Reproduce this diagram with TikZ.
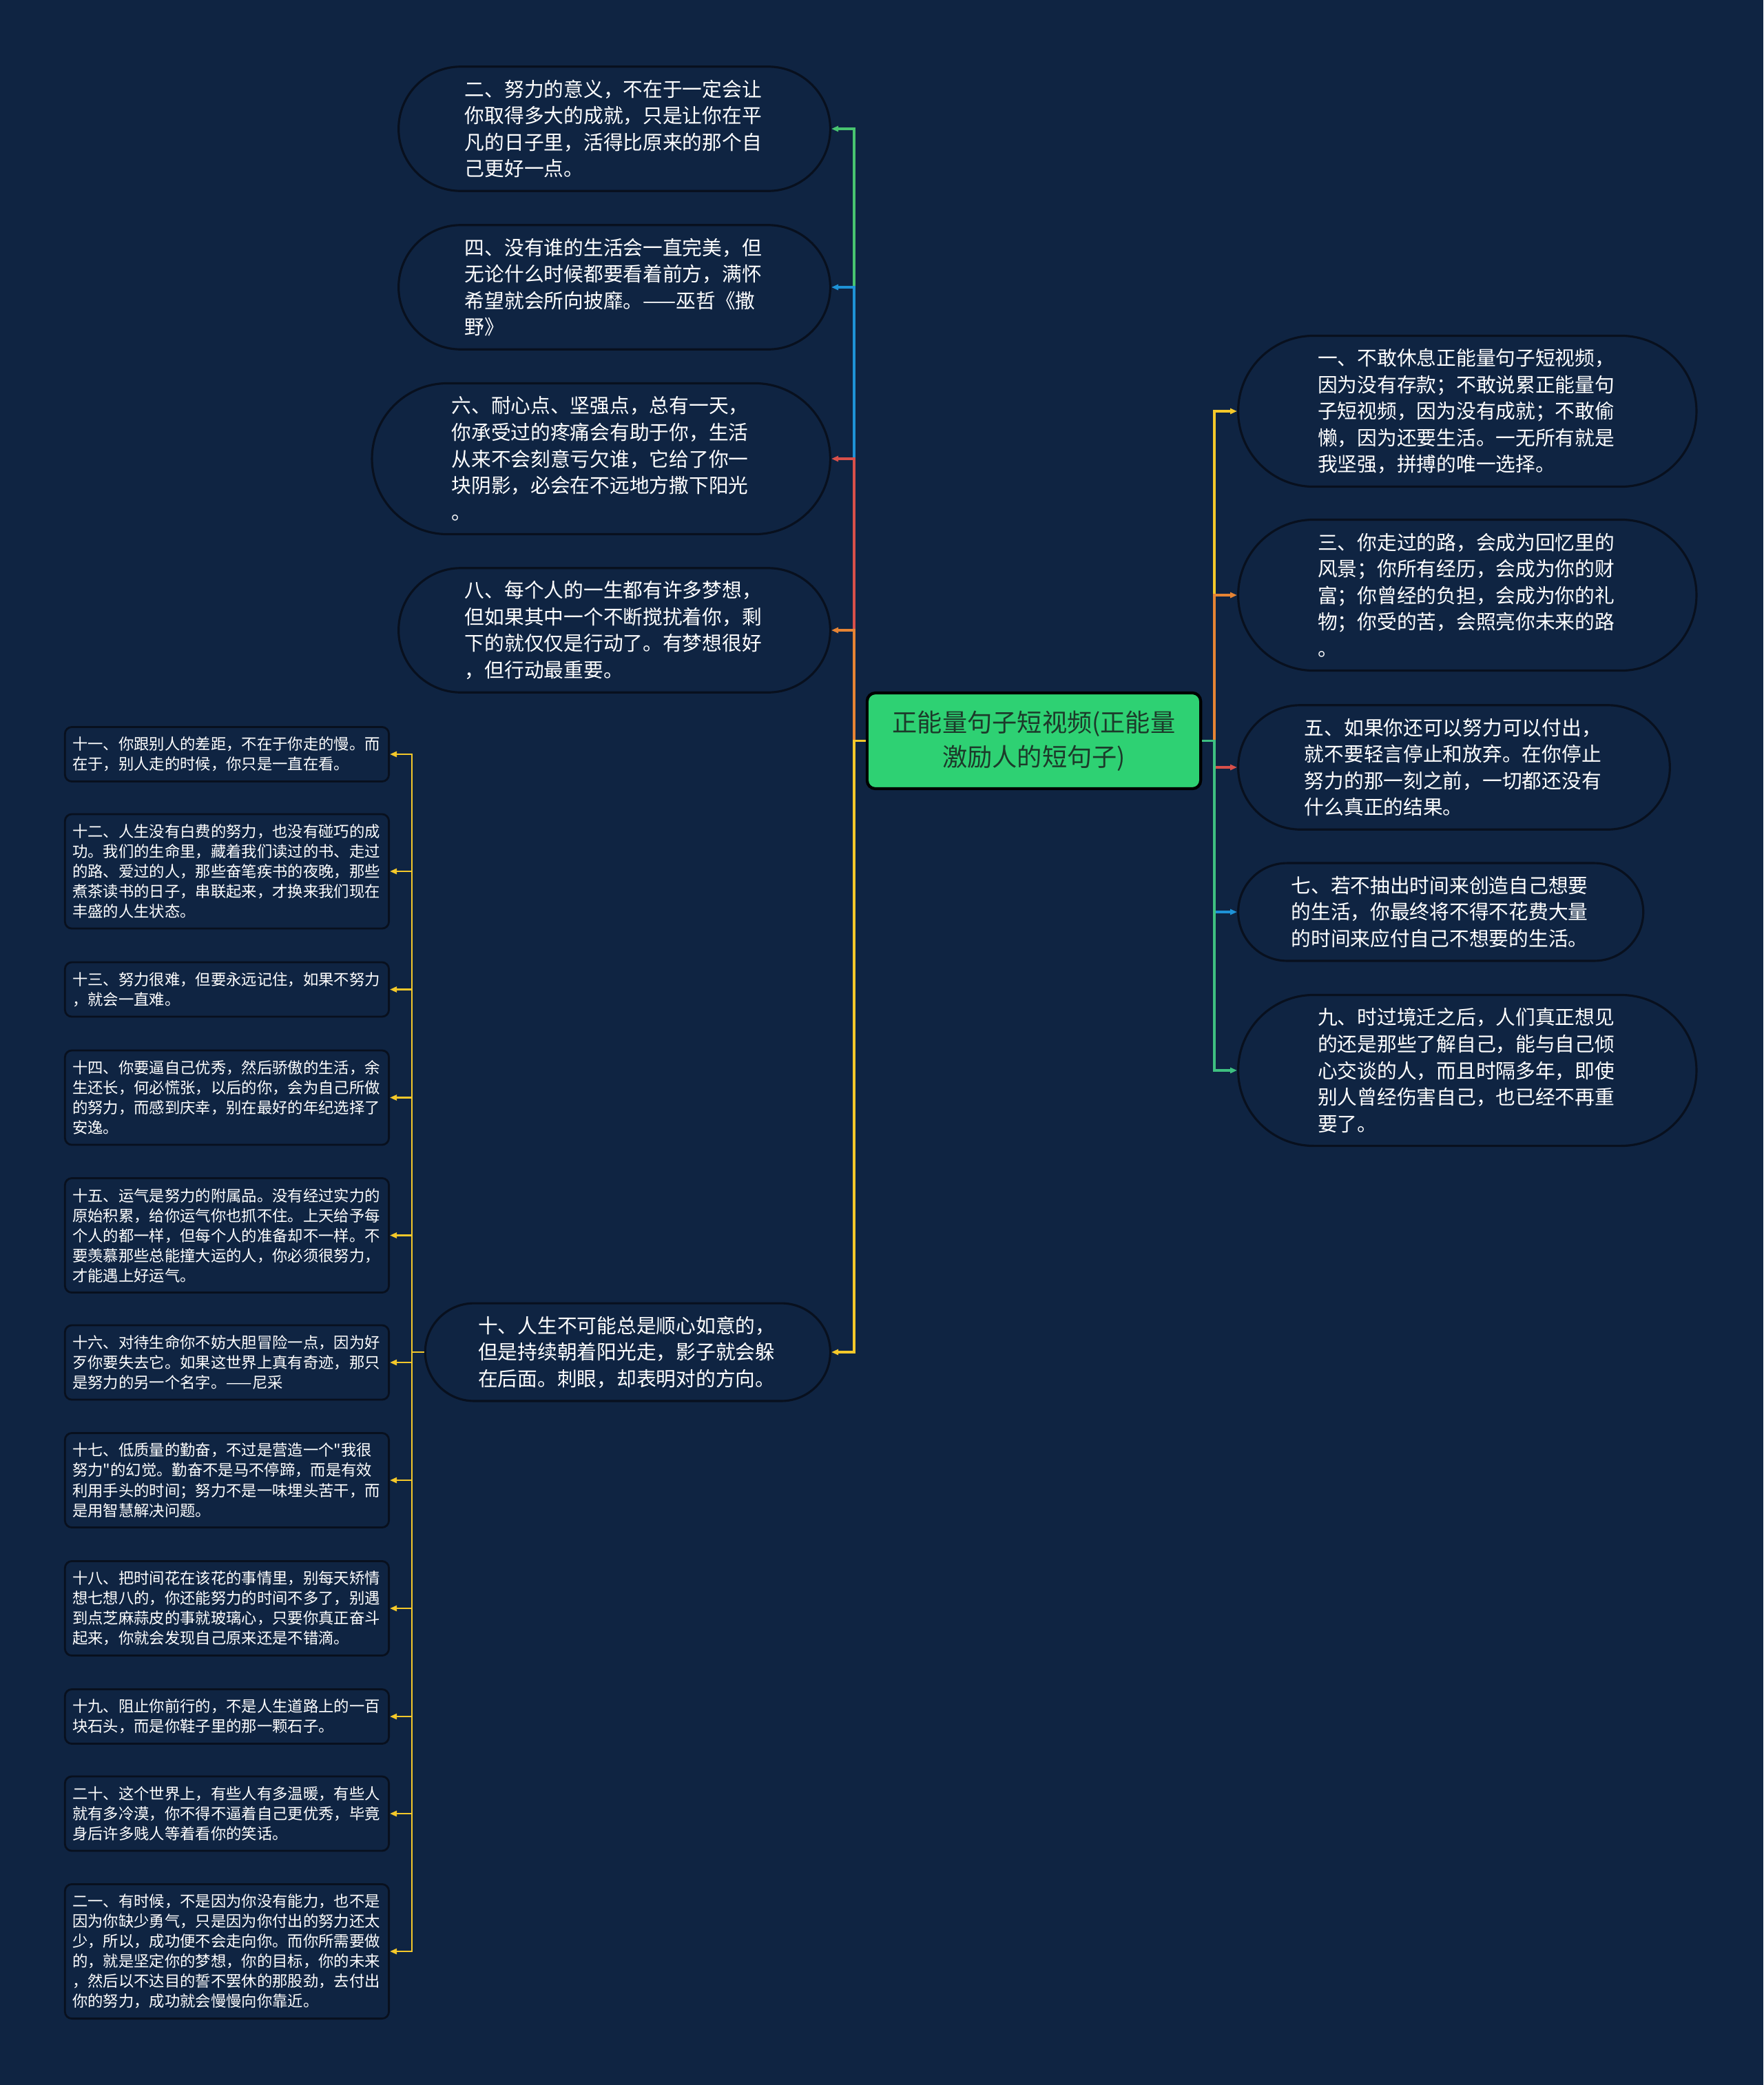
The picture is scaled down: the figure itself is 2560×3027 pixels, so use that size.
\documentclass[tikz,border=0pt]{standalone}
\usepackage{fontspec}
\setmainfont{Noto Sans CJK SC}[Ligatures=TeXOff]
\usetikzlibrary{arrows.meta,shapes.misc}
\definecolor{bg}{RGB}{15,36,66}
\definecolor{rim}{RGB}{8,16,30}
\definecolor{rootg}{RGB}{46,209,115}
\definecolor{rootink}{RGB}{28,58,42}
\definecolor{cgreen}{RGB}{72,196,112}
\definecolor{cblue}{RGB}{30,146,214}
\definecolor{cred}{RGB}{216,80,74}
\definecolor{corange}{RGB}{230,132,52}
\definecolor{yel}{RGB}{244,200,42}
\definecolor{cteal}{RGB}{62,192,128}
\begin{document}
\begin{tikzpicture}[x=0.01cm,y=-0.01cm,>={Triangle[length=1mm,width=0.8mm]},
  pill/.style={rounded rectangle,draw=rim,line width=0.9pt,fill=bg,text=white,font=\fontsize{8.17}{10.98}\selectfont,align=left,text width=4.34cm,inner sep=0pt,minimum height=0.386cm*#1+0.26cm,minimum width=0.386cm*#1+4.72cm},
  card/.style={rectangle,rounded corners=1mm,draw=rim,line width=0.8pt,fill=bg,text=white,font=\fontsize{6.35}{8.25}\selectfont,align=left,text width=4.48cm,inner xsep=0.11cm,inner ysep=0pt,minimum height=0.29cm*#1+0.21cm},
  link/.style={line width=0.9pt,->},
  twig/.style={line width=0.8pt,->,yel}]
\path[use as bounding box,fill=bg] (0,0) rectangle (2560,3027);
% centre
\node[draw=black,line width=1.2pt,fill=rootg,rounded corners=1.2mm,text=rootink,font=\fontsize{10.3}{14.2}\selectfont,align=center,minimum width=4.84cm,minimum height=1.39cm] (root) at (1501,1075.5){正能量句子短视频(正能量\\激励人的短句子)};
% left side
\node[pill=4,anchor=east] (n2) at (1207,187){二、努力的意义，不在于一定会让\\你取得多大的成就，只是让你在平\\凡的日子里，活得比原来的那个自\\己更好一点。};
\node[pill=4,anchor=east] (n4) at (1207,417){四、没有谁的生活会一直完美，但\\无论什么时候都要看着前方，满怀\\希望就会所向披靡。——巫哲《撒\\野》};
\node[pill=5,anchor=east] (n6) at (1207,666){六、耐心点、坚强点，总有一天，\\你承受过的疼痛会有助于你，生活\\从来不会刻意亏欠谁，它给了你一\\块阴影，必会在不远地方撒下阳光\\。};
\node[pill=4,anchor=east] (n8) at (1207,915){八、每个人的一生都有许多梦想，\\但如果其中一个不断搅扰着你，剩\\下的就仅仅是行动了。有梦想很好\\，但行动最重要。};
\node[pill=3,anchor=east] (n10) at (1207,1963){十、人生不可能总是顺心如意的，\\但是持续朝着阳光走，影子就会躲\\在后面。刺眼，却表明对的方向。};
% right side
\node[pill=5,anchor=west] (n1) at (1796,597){一、不敢休息正能量句子短视频，\\因为没有存款；不敢说累正能量句\\子短视频，因为没有成就；不敢偷\\懒，因为还要生活。一无所有就是\\我坚强，拼搏的唯一选择。};
\node[pill=5,anchor=west] (n3) at (1796,864){三、你走过的路，会成为回忆里的\\风景；你所有经历，会成为你的财\\富；你曾经的负担，会成为你的礼\\物；你受的苦，会照亮你未来的路\\。};
\node[pill=4,anchor=west] (n5) at (1796,1114){五、如果你还可以努力可以付出，\\就不要轻言停止和放弃。在你停止\\努力的那一刻之前，一切都还没有\\什么真正的结果。};
\node[pill=3,anchor=west] (n7) at (1796,1324){七、若不抽出时间来创造自己想要\\的生活，你最终将不得不花费大量\\的时间来应付自己不想要的生活。};
\node[pill=5,anchor=west] (n9) at (1796,1554){九、时过境迁之后，人们真正想见\\的还是那些了解自己，能与自己倾\\心交谈的人，而且时隔多年，即使\\别人曾经伤害自己，也已经不再重\\要了。};
% under ten
\node[card=2,anchor=east] (n11) at (566,1095){十一、你跟别人的差距，不在于你走的慢。而\\在于，别人走的时候，你只是一直在看。};
\node[card=5,anchor=east] (n12) at (566,1265){十二、人生没有白费的努力，也没有碰巧的成\\功。我们的生命里，藏着我们读过的书、走过\\的路、爱过的人，那些奋笔疾书的夜晚，那些\\煮茶读书的日子，串联起来，才换来我们现在\\丰盛的人生状态。};
\node[card=2,anchor=east] (n13) at (566,1436.5){十三、努力很难，但要永远记住，如果不努力\\，就会一直难。};
\node[card=4,anchor=east] (n14) at (566,1593.5){十四、你要逼自己优秀，然后骄傲的生活，余\\生还长，何必慌张，以后的你，会为自己所做\\的努力，而感到庆幸，别在最好的年纪选择了\\安逸。};
\node[card=5,anchor=east] (n15) at (566,1793.5){十五、运气是努力的附属品。没有经过实力的\\原始积累，给你运气你也抓不住。上天给予每\\个人的都一样，但每个人的准备却不一样。不\\要羡慕那些总能撞大运的人，你必须很努力，\\才能遇上好运气。};
\node[card=3,anchor=east] (n16) at (566,1978){十六、对待生命你不妨大胆冒险一点，因为好\\歹你要失去它。如果这世界上真有奇迹，那只\\是努力的另一个名字。——尼采};
\node[card=4,anchor=east] (n17) at (566,2149){十七、低质量的勤奋，不过是营造一个"我很\\努力"的幻觉。勤奋不是马不停蹄，而是有效\\利用手头的时间；努力不是一味埋头苦干，而\\是用智慧解决问题。};
\node[card=4,anchor=east] (n18) at (566,2335){十八、把时间花在该花的事情里，别每天矫情\\想七想八的，你还能努力的时间不多了，别遇\\到点芝麻蒜皮的事就玻璃心，只要你真正奋斗\\起来，你就会发现自己原来还是不错滴。};
\node[card=2,anchor=east] (n19) at (566,2492){十九、阻止你前行的，不是人生道路上的一百\\块石头，而是你鞋子里的那一颗石子。};
\node[card=3,anchor=east] (n20) at (566,2633){二十、这个世界上，有些人有多温暖，有些人\\就有多冷漠，你不得不逼着自己更优秀，毕竟\\身后许多贱人等着看你的笑话。};
\node[card=6,anchor=east] (n21) at (566,2833){二一、有时候，不是因为你没有能力，也不是\\因为你缺少勇气，只是因为你付出的努力还太\\少，所以，成功便不会走向你。而你所需要做\\的，就是坚定你的梦想，你的目标，你的未来\\，然后以不达目的誓不罢休的那股劲，去付出\\你的努力，成功就会慢慢向你靠近。};
% connectors
\coordinate (lj) at (1240,1075.5);\coordinate (rj) at (1763,1075.5);\coordinate (sj) at (598,1963);
\draw[link,cgreen] (root.west)--(lj)|-(n2.east);\draw[link,cblue] (root.west)--(lj)|-(n4.east);
\draw[link,cred] (root.west)--(lj)|-(n6.east);\draw[link,corange] (root.west)--(lj)|-(n8.east);
\draw[link,yel] (root.west)--(lj)|-(n10.east);
\draw[link,yel] (root.east)--(rj)|-(n1.west);\draw[link,corange] (root.east)--(rj)|-(n3.west);
\draw[link,cred] (root.east)--(rj)|-(n5.west);\draw[link,cblue] (root.east)--(rj)|-(n7.west);
\draw[link,cteal] (root.east)--(rj)|-(n9.west);
\foreach \k in {11,...,21} \draw[twig] (n10.west)--(sj)|-(n\k.east);
\end{tikzpicture}
\end{document}
